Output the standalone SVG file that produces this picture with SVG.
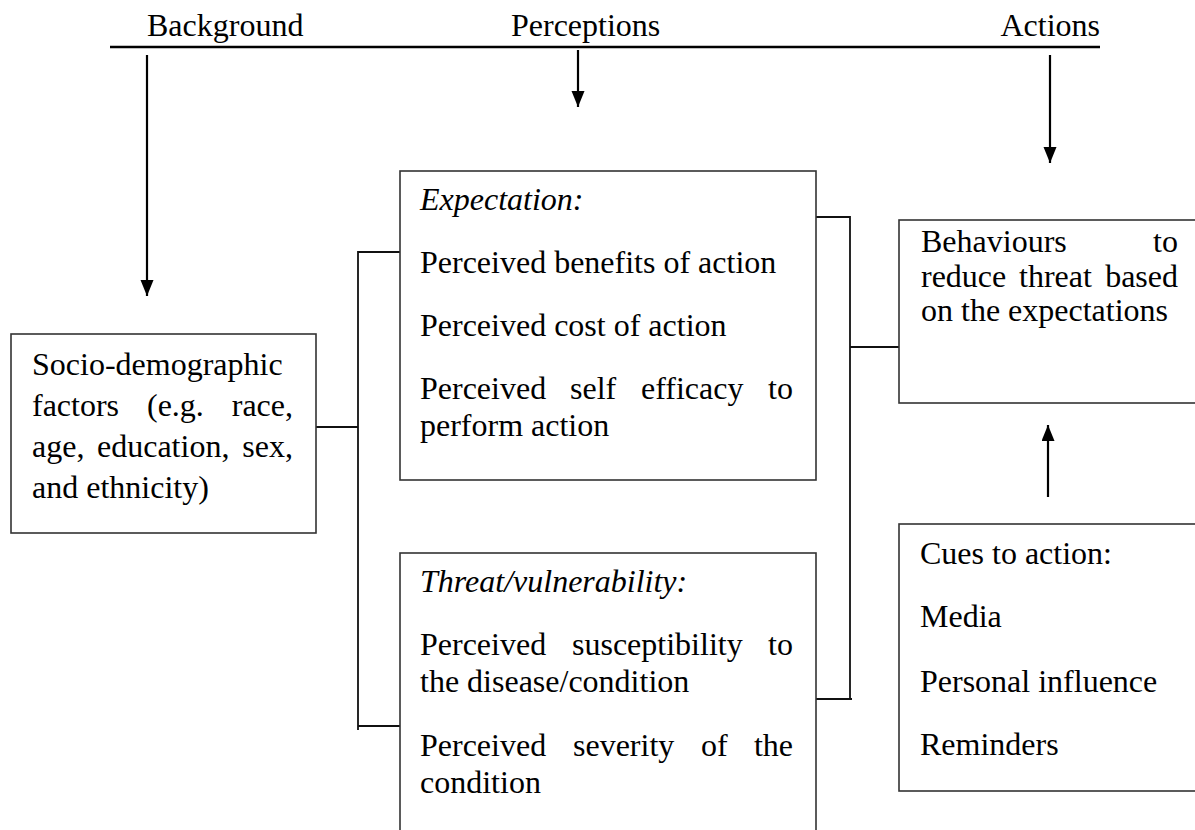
<svg xmlns="http://www.w3.org/2000/svg" width="1195" height="830" viewBox="0 0 1195 830">
<defs>
<marker id="ah" markerUnits="userSpaceOnUse" markerWidth="16" markerHeight="14" refX="16" refY="6.5" orient="auto"><path d="M0,0 L16,6.5 L0,13 z" fill="#000"/></marker>
<style>
text{font-family:"Liberation Serif","Times New Roman",serif;font-size:32px;fill:#000}
.it{font-style:italic}
.box{fill:#fff;stroke:#333;stroke-width:1.6}
.conn{stroke:#111;stroke-width:1.8;fill:none}
.arrow{stroke:#000;stroke-width:2.2;fill:none;marker-end:url(#ah)}
.end{text-anchor:end}
</style>
</defs>
<rect width="1195" height="830" fill="#fff"/>
<g id="header">
<line x1="110" y1="47" x2="1100" y2="47" stroke="#000" stroke-width="2.5"/>
<text x="147" y="36">Background</text>
<text x="511" y="36">Perceptions</text>
<text x="1100" y="36" class="end">Actions</text>
</g>
<g id="connectors">
<path class="arrow" d="M147,55 V296"/>
<path class="arrow" d="M578,50 V107"/>
<path class="arrow" d="M1050,55 V163"/>
<path class="arrow" d="M1048,497 V425"/>
<path class="conn" d="M314,427 H358"/>
<path class="conn" d="M400,252 H358 V730"/>
<path class="conn" d="M358,726 H401"/>
<path class="conn" d="M816,217 H850 V700"/>
<path class="conn" d="M816,699 H852"/>
<path class="conn" d="M850,347 H899"/>
</g>
<g id="socio">
<rect class="box" x="11" y="334" width="305" height="199"/>
<text x="32" y="375">Socio-demographic</text>
<text y="416"><tspan x="32">factors</tspan><tspan x="147">(e.g.</tspan><tspan x="293" text-anchor="end">race,</tspan></text>
<text y="457"><tspan x="32">age,</tspan><tspan x="97">education,</tspan><tspan x="293" text-anchor="end">sex,</tspan></text>
<text x="32" y="498">and ethnicity)</text>
</g>
<g id="expectation">
<rect class="box" x="400" y="171" width="416" height="309"/>
<text x="420" y="210" class="it">Expectation:</text>
<text x="420" y="273">Perceived benefits of action</text>
<text x="420" y="336">Perceived cost of action</text>
<text y="399"><tspan x="420">Perceived</tspan><tspan x="570">self</tspan><tspan x="641">efficacy</tspan><tspan x="793" text-anchor="end">to</tspan></text>
<text x="420" y="436">perform action</text>
</g>
<g id="threat">
<rect class="box" x="400" y="553" width="416" height="300"/>
<text x="420" y="592" class="it">Threat/vulnerability:</text>
<text y="655"><tspan x="420">Perceived</tspan><tspan x="572">susceptibility</tspan><tspan x="793" text-anchor="end">to</tspan></text>
<text x="420" y="692">the disease/condition</text>
<text y="756"><tspan x="420">Perceived</tspan><tspan x="573">severity</tspan><tspan x="701">of</tspan><tspan x="793" text-anchor="end">the</tspan></text>
<text x="420" y="793">condition</text>
</g>
<g id="behaviours">
<rect class="box" x="899" y="220" width="310" height="183"/>
<text y="252"><tspan x="921">Behaviours</tspan><tspan x="1178" text-anchor="end">to</tspan></text>
<text y="287"><tspan x="921">reduce</tspan><tspan x="1019">threat</tspan><tspan x="1178" text-anchor="end">based</tspan></text>
<text x="921" y="321">on the expectations</text>
</g>
<g id="cues">
<rect class="box" x="899" y="524" width="310" height="267"/>
<text x="920" y="564">Cues to action:</text>
<text x="920" y="627">Media</text>
<text x="920" y="692">Personal influence</text>
<text x="920" y="755">Reminders</text>
</g>
</svg>
